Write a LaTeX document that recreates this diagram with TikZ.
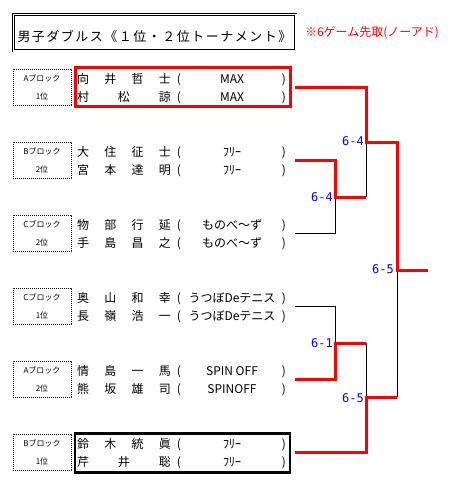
\documentclass[tikz,border=0pt]{standalone}
\usepackage{fontspec}
\setmainfont{Noto Sans CJK JP}
\newfontfamily\scorefont{DejaVu Sans Mono}
\tikzset{
  txt/.style={inner sep=0pt, outer sep=0pt, anchor=base, yshift=-4.5pt, font=\fontsize{12}{12}\selectfont},
  nm/.style={txt, anchor=base west},
  lbl/.style={draw, line width=0.8pt, dash pattern=on 0.8pt off 1.2pt, minimum width=58pt, minimum height=36pt,
    inner sep=0pt, align=center, font=\fontsize{8}{18}\selectfont},
  pairbox/.style={minimum width=215pt, minimum height=39pt, inner sep=0pt},
  win/.style={draw=red, line width=3pt},
  lose/.style={draw=black, line width=1pt},
  score/.style={text=blue, inner sep=0pt, anchor=base east, yshift=-4.4pt, font=\scorefont\fontsize{12}{12}\selectfont},
}
\newcommand\playerrow[4]{%
  \node[nm] (#1) at (77,#2) {\makebox[94pt][s]{#3}};
  \node[txt] (#1l) at (179,#2) {(};
  \node[txt] (#1t) at (232,#2) {#4};
  \node[txt] (#1r) at (284,#2) {)};
}
\begin{document}
\begin{tikzpicture}[x=1pt,y=-1pt]
\useasboundingbox[fill=white] (0,0) rectangle (464,504);

% title
\node[draw, double, double distance=1.5pt, line width=0.8pt, minimum width=282.5pt, minimum height=36.5pt, inner sep=0pt] (titlebox) at (154.5,32.5) {};
\node[txt, anchor=base west, yshift=-5pt, font=\fontsize{13}{13}\selectfont] (title) at (17.5,32)
  {\makebox[274pt][s]{男\hfil 子\hfil ダ\hfil ブ\hfil ル\hfil ス\hfil 《\hfil １\hfil 位\hfil ・\hfil ２\hfil 位\hfil ト\hfil ー\hfil ナ\hfil メ\hfil ン\hfil ト\hfil 》}};
\node[txt, anchor=base west, text=red] (note) at (305,32) {※6ゲーム先取(ノーアド)};

% block labels
\node[lbl] (b1) at (42,87) {Aブロック\\1位};
\node[lbl] (b2) at (42,160) {Bブロック\\2位};
\node[lbl] (b3) at (42,233) {Cブロック\\2位};
\node[lbl] (b4) at (42,306) {Cブロック\\1位};
\node[lbl] (b5) at (42,379) {Aブロック\\2位};
\node[lbl] (b6) at (42,452) {Bブロック\\1位};

% players
\node[pairbox, draw=red, line width=3pt] (p1) at (182.5,86.5) {};
\node[pairbox] (p2) at (182.5,160) {};
\node[pairbox] (p3) at (182.5,233) {};
\node[pairbox] (p4) at (182.5,306) {};
\node[pairbox] (p5) at (182.5,379) {};
\node[pairbox, draw=black, line width=2.5pt] (p6) at (182.5,453) {};

\playerrow{a1}{78.5}{向\hfil 井\hfil 哲\hfil 士}{MAX}
\playerrow{a2}{96.5}{村\hfil 松\hfil 諒}{MAX}
\playerrow{c1}{151.5}{大\hfil 住\hfil 征\hfil 士}{ﾌﾘｰ}
\playerrow{c2}{169.5}{宮\hfil 本\hfil 達\hfil 明}{ﾌﾘｰ}
\playerrow{d1}{224.5}{物\hfil 部\hfil 行\hfil 延}{ものべ～ず}
\playerrow{d2}{242.5}{手\hfil 島\hfil 昌\hfil 之}{ものべ～ず}
\playerrow{e1}{297.5}{奥\hfil 山\hfil 和\hfil 幸}{うつぼDeテニス}
\playerrow{e2}{315.5}{長\hfil 嶺\hfil 浩\hfil 一}{うつぼDeテニス}
\playerrow{f1}{370.5}{情\hfil 島\hfil 一\hfil 馬}{SPIN OFF}
\playerrow{f2}{388.5}{熊\hfil 坂\hfil 雄\hfil 司}{SPINOFF}
\playerrow{g1}{443.5}{鈴\hfil 木\hfil 統\hfil 眞}{ﾌﾘｰ}
\playerrow{g2}{461.5}{芹\hfil 井\hfil 聡}{ﾌﾘｰ}

% bracket points
\coordinate (s1) at (295,87);
\coordinate (s2) at (295,160);
\coordinate (s3) at (295,233);
\coordinate (s4) at (295,306);
\coordinate (s5) at (295,379);
\coordinate (s6) at (295,452);
\coordinate (j12) at (335,197);
\coordinate (j45) at (335,343);
\coordinate (k1) at (366,142);
\coordinate (k2) at (366,397);
\coordinate (fin) at (397,270);
\coordinate (out) at (428,270);

% losing paths
\draw[lose] (s3) -| (j12);
\draw[lose] (k1) -- (j12 -| k1);
\draw[lose] (s4) -| (j45);
\draw[lose] (j45 -| k2) -- (k2);
\draw[lose] (fin) -- (k2 -| fin);

% winning paths
\draw[win] (s1) -| (k1) -| (fin) -- (out);
\draw[win] (s2) -| (j12) -- (j12 -| k1);
\draw[win] (s5) -| (j45) -- (j45 -| k2);
\draw[win] (s6) -| (k2) -- (k2 -| fin);

% scores
\node[score] (sc1) at (364,141) {6-4};
\node[score] (sc2) at (333,197) {6-4};
\node[score] (sc3) at (394,269) {6-5};
\node[score] (sc4) at (333,343) {6-1};
\node[score] (sc5) at (364,398) {6-5};
\end{tikzpicture}
\end{document}
